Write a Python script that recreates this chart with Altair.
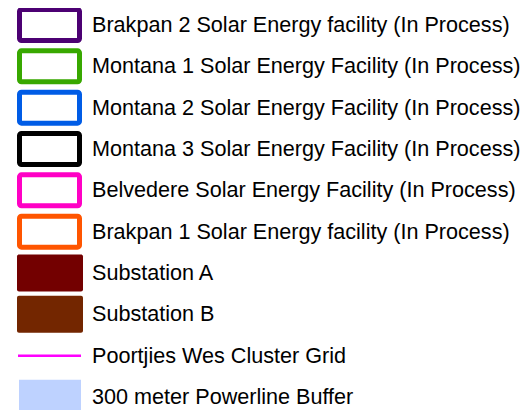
import altair as alt
import pandas as pd

labels = [
    "Brakpan 2 Solar Energy facility (In Process)",
    "Montana 1 Solar Energy Facility (In Process)",
    "Montana 2 Solar Energy Facility (In Process)",
    "Montana 3 Solar Energy Facility (In Process)",
    "Belvedere Solar Energy Facility (In Process)",
    "Brakpan 1 Solar Energy facility (In Process)",
    "Substation A",
    "Substation B",
    "Poortjies Wes Cluster Grid",
    "300 meter Powerline Buffer",
]
kinds = ["outline"] * 6 + ["fill", "fill", "line", "buffer"]
colors = ["#4C0073", "#38A800", "#005CE6", "#000000", "#FF00C5", "#FF5500",
          "#730000", "#732600", "#FF00FF", "#BED2FF"]

df = pd.DataFrame({"label": labels, "kind": kinds, "color": colors,
                   "row": list(range(len(labels)))})

yscale = alt.Scale(domain=[0, 9], range=[17, 389])
base = alt.Chart(df)

outline = base.transform_filter(alt.datum.kind == "outline").transform_calculate(
    y0="datum.row - 0.375", y1="datum.row + 0.375"
).mark_rect(fill="transparent", strokeWidth=5, cornerRadius=2).encode(
    x=alt.value(11.5), x2=alt.value(71.5),
    y=alt.Y("y0:Q", scale=yscale, axis=None), y2="y1:Q",
    stroke=alt.Stroke("color:N", scale=None),
)

filled = base.transform_filter(alt.datum.kind == "fill").transform_calculate(
    y0="datum.row - 0.448", y1="datum.row + 0.448"
).mark_rect(cornerRadius=2).encode(
    x=alt.value(9), x2=alt.value(75),
    y=alt.Y("y0:Q", scale=yscale, axis=None), y2="y1:Q",
    fill=alt.Fill("color:N", scale=None),
)

buffer = base.transform_filter(alt.datum.kind == "buffer").transform_calculate(
    y0="datum.row - 0.42", y1="datum.row + 0.42"
).mark_rect().encode(
    x=alt.value(11), x2=alt.value(73),
    y=alt.Y("y0:Q", scale=yscale, axis=None), y2="y1:Q",
    fill=alt.Fill("color:N", scale=None),
)

line = base.transform_filter(alt.datum.kind == "line").mark_rule(strokeWidth=2.5).encode(
    x=alt.value(10), x2=alt.value(73),
    y=alt.Y("row:Q", scale=yscale, axis=None),
    stroke=alt.Stroke("color:N", scale=None),
)

text = base.mark_text(align="left", baseline="middle", font="Liberation Sans",
                      fontSize=21.6, color="#000000", dy=1).encode(
    x=alt.value(84),
    y=alt.Y("row:Q", scale=yscale, axis=None),
    text="label:N",
)

chart = alt.layer(outline, filled, buffer, line, text).properties(
    width=513, height=402, padding=0, autosize="none"
).configure_view(stroke=None)

chart.save("out.html", embed_options={"renderer": "svg", "actions": False})
